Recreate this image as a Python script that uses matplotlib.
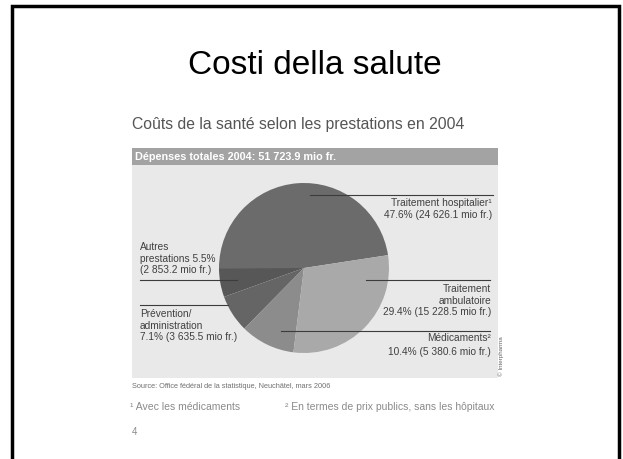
import matplotlib
matplotlib.use("Agg")
import matplotlib.pyplot as plt
from matplotlib.patches import Rectangle

# data (order = counterclockwise from the right)
categories = ["Traitement hospitalier", "Autres prestations", "Prévention/administration",
              "Médicaments", "Traitement ambulatoire"]
shares = [47.6, 5.5, 7.1, 10.4, 29.4]
amounts = [24626.1, 2853.2, 3635.5, 5380.6, 15228.5]
total = 51723.9
slice_colors = ["#6b6b6b", "#575757", "#656565", "#8c8c8c", "#a9a9a9"]

W, H = 623, 459


def Y(y):
    return H - y


def mio(v):
    return f"{v:,.1f}".replace(",", " ") + " mio fr."


plt.rcParams["font.family"] = ["Liberation Sans", "DejaVu Sans"]

fig = plt.figure(figsize=(W / 100, H / 100), dpi=100)
ax = fig.add_axes([0, 0, 1, 1])

# slide frame (open at the bottom)
ax.plot([12, 12, 619, 619], [0, Y(6), Y(6), 0], color="black", lw=2.5, solid_joinstyle="miter")

ax.text(315, Y(66), "Costi della salute", fontsize=24, ha="center", va="center", color="black")
ax.text(132, Y(125), "Coûts de la santé selon les prestations en 2004",
        fontsize=11.3, ha="left", va="center", color="#555555")

# chart panel
ax.add_patch(Rectangle((132, Y(378)), 366, 213, color="#e9e9e9", lw=0, zorder=0))
ax.add_patch(Rectangle((132, Y(165)), 366, 17, color="#a3a3a3", lw=0, zorder=1))
ax.text(135, Y(156.5), f"Dépenses totales 2004: {total:,.1f} mio fr.".replace(",", " "),
        fontsize=7.8, fontweight="bold", color="white", ha="left", va="center")

ax.pie(shares, colors=slice_colors, startangle=8.7, counterclock=True,
       center=(304, Y(268)), radius=85, wedgeprops={"linewidth": 0})

line_kw = dict(color="#3c3c3c", lw=0.8, zorder=5)
ax.plot([310, 493], [Y(195), Y(195)], **line_kw)
ax.plot([140, 237], [Y(280), Y(280)], **line_kw)
ax.plot([140, 228], [Y(305), Y(305)], **line_kw)
ax.plot([366, 490], [Y(280), Y(280)], **line_kw)
ax.plot([281, 490], [Y(331), Y(331)], **line_kw)

lab = dict(fontsize=7.3, color="#404040", linespacing=1.2, zorder=6)
ax.text(492, Y(198.5), f"{categories[0]}¹\n{shares[0]}% ({mio(amounts[0])})",
        ha="right", va="top", **lab)
ax.text(140, Y(242), f"Autres\nprestations {shares[1]}%\n({mio(amounts[1])})",
        ha="left", va="top", **lab)
ax.text(140, Y(309), f"Prévention/\nadministration\n{shares[2]}% ({mio(amounts[2])})",
        ha="left", va="top", **lab)
ax.text(491, Y(284), f"Traitement\nambulatoire\n{shares[4]}% ({mio(amounts[4])})",
        ha="right", va="top", **lab)
ax.text(491, Y(333), f"{categories[3]}²\n{shares[3]}% ({mio(amounts[3])})",
        ha="right", va="top", fontsize=7.3, color="#404040", linespacing=1.45, zorder=6)
ax.text(501, Y(356), "© Interpharma", fontsize=4.5, color="#666666", rotation=90,
        ha="center", va="center")

ax.text(132, Y(387), "Source: Office fédéral de la statistique, Neuchâtel, mars 2006",
        fontsize=5.3, color="#707070", ha="left", va="center")
ax.text(130, Y(407), "¹ Avec les médicaments", fontsize=7.5, color="#8a8a8a", ha="left", va="center")
ax.text(285, Y(407), "² En termes de prix publics, sans les hôpitaux", fontsize=7.5,
        color="#8a8a8a", ha="left", va="center")
ax.text(132, Y(432), "4", fontsize=7, color="#8a8a8a", ha="left", va="center")

ax.set_xlim(0, W)
ax.set_ylim(0, H)
ax.set_aspect("auto")
ax.axis("off")

fig.savefig("out.png", dpi=100)
